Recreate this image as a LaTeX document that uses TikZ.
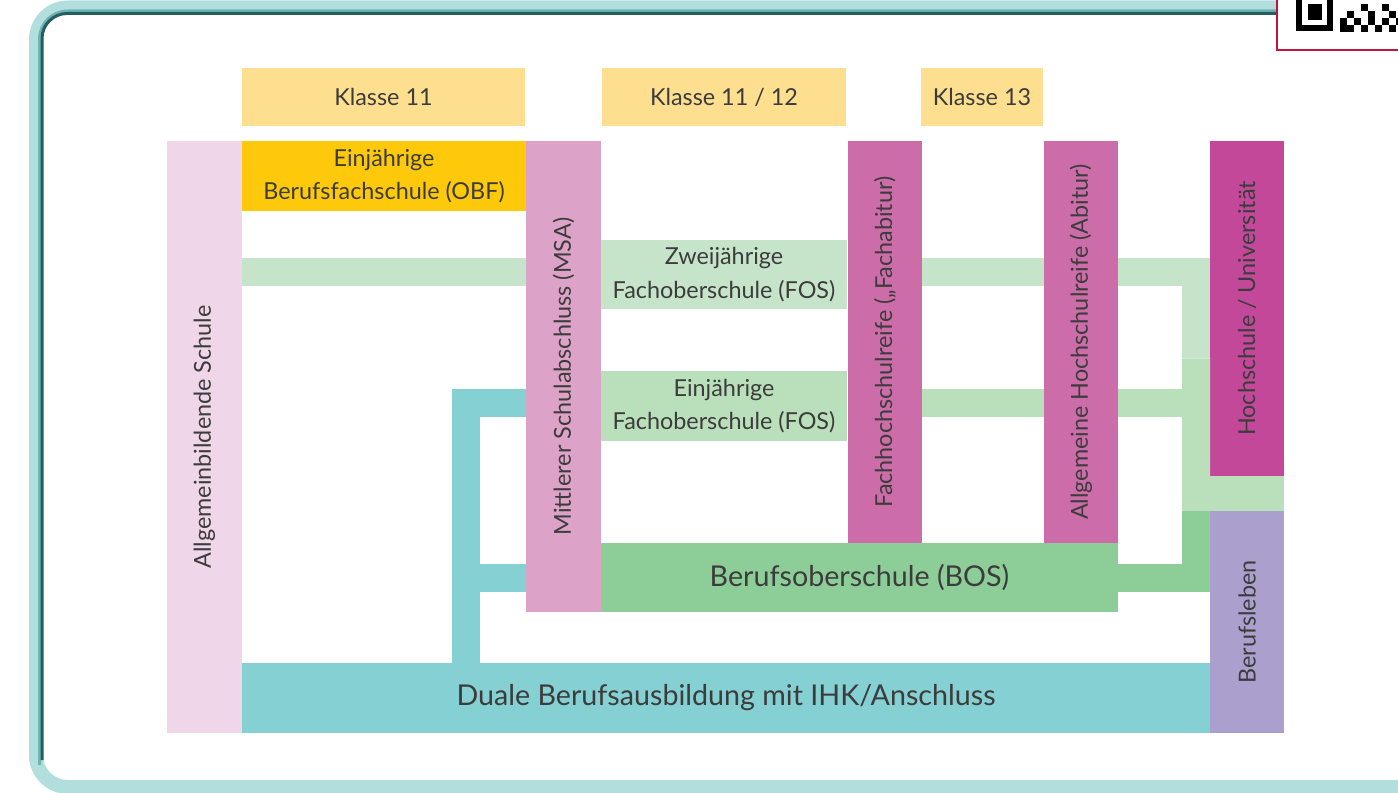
\documentclass[tikz,border=0pt]{standalone}
\usepackage{fontspec}
\setmainfont{Lato}
\usetikzlibrary{calc}

\definecolor{textcol}{HTML}{3C3C3C}
\definecolor{klassecol}{HTML}{FEDF8F}
\definecolor{obfcol}{HTML}{FFC90B}
\definecolor{allgcol}{HTML}{EFD6E9}
\definecolor{msacol}{HTML}{DDA2C7}
\definecolor{fos2col}{HTML}{C6E4C9}
\definecolor{fos1col}{HTML}{B9DFBB}
\definecolor{boscol}{HTML}{8DCD97}
\definecolor{reifecol}{HTML}{CC6DAA}
\definecolor{hscol}{HTML}{C4489A}
\definecolor{berufcol}{HTML}{ABA0CD}
\definecolor{dualcol}{HTML}{84D0D2}
\definecolor{framelight}{HTML}{B2DEDE}
\definecolor{framemid}{HTML}{6FB3B3}
\definecolor{framedark}{HTML}{245F5F}
\definecolor{qrred}{HTML}{C0143C}

\begin{document}
\begin{tikzpicture}[x=0.2mm,y=-0.2mm,
    box/.style={inner sep=0pt,align=center,text=textcol,font=\fontsize{13.3}{19}\selectfont},
    bigbox/.style={box,font=\fontsize{16.3}{20}\selectfont},
    band/.style={line width=5.6mm,line join=miter}]
    \useasboundingbox (0,0) rectangle (1398,792);

    % Rahmen
    \draw[framelight,line width=2.8mm,rounded corners=6.4mm] (1277,7.5) -- (36,7.5) -- (36,787) -- (1420,787);
    \draw[framemid,line width=0.6mm,rounded corners=5.6mm] (1277,11) -- (39.5,11) -- (39.5,765);
    \draw[framedark,line width=0.6mm,rounded corners=5mm] (1277,13.5) -- (42,13.5) -- (42,760);

    % QR-Code (angeschnitten)
    \draw[qrred,line width=0.5mm,fill=white] (1277,-10) rectangle (1420,50);
    \draw[black,line width=1.2mm] (1299,-10) -- (1299,28) -- (1330,28) -- (1330,-10);
    \fill[black] (1308,4) rectangle (1322,20);
    \foreach \qx/\qy in {1340/18,1340/25,1347/11,1347/25,1354/18,1361/4,1361/25,1368/11,1368/18,1375/25,1382/4,1382/18,1389/11,1389/25,1396/18}
        \fill[black] (\qx,\qy) rectangle +(7,7);

    % Klassenstufen
    \node[box,fill=klassecol,minimum width=56.6mm,minimum height=11.6mm] (k11) at (383.5,97) {Klasse 11};
    \node[box,fill=klassecol,minimum width=48.8mm,minimum height=11.6mm] (k1112) at (724,97) {Klasse 11 / 12};
    \node[box,fill=klassecol,minimum width=24.4mm,minimum height=11.6mm] (k13) at (982,97) {\raisebox{-0.6mm}{Klasse 13}};

    % Schulformen
    \node[box,fill=allgcol,minimum width=15mm,minimum height=118.4mm] (allg) at (204.5,437) {\rotatebox{90}{Allgemeinbildende Schule}};
    \node[box,fill=obfcol,minimum width=56.8mm,minimum height=14mm] (obf) at (384,176) {\raisebox{-0.6mm}{\shortstack{Einjährige\\[1.2mm]Berufsfachschule (OBF)}}};
    \node[box,fill=msacol,minimum width=15mm,minimum height=94.2mm] (msa) at (563.5,376.5) {\rotatebox{90}{Mittlerer Schulabschluss (MSA)}};
    \node[box,fill=fos2col,minimum width=49.2mm,minimum height=13.8mm] (zfos) at (724,274.5) {Zweijährige\\Fachoberschule (FOS)};
    \node[box,fill=fos1col,minimum width=49.2mm,minimum height=14mm] (efos) at (724,406) {Einjährige\\Fachoberschule (FOS)};
    \node[box,fill=reifecol,minimum width=14.8mm,minimum height=80.4mm] (fhr) at (885,342) {\rotatebox{90}{Fachhochschulreife („Fachabitur)}};
    \node[box,fill=reifecol,minimum width=14.8mm,minimum height=80.4mm] (ahr) at (1081,342) {\rotatebox{90}{Allgemeine Hochschulreife (Abitur)}};
    \node[box,fill=hscol,minimum width=14.8mm,minimum height=67mm] (hs) at (1247,308.5) {\rotatebox{90}{Hochschule / Universität}};
    \node[box,fill=berufcol,minimum width=14.8mm,minimum height=44.4mm] (bl) at (1247,622) {\rotatebox{90}{Berufsleben}};
    \node[bigbox,fill=boscol,minimum width=103.4mm,minimum height=13.8mm] (bos) at (859.5,577.5) {Berufsoberschule (BOS)};
    \node[bigbox,fill=dualcol,minimum width=193.6mm,minimum height=14mm] (duale) at (726,698) {Duale Berufsausbildung mit IHK/Anschluss};

    % Hilfspunkte
    \coordinate (lvl1) at ([yshift=0.5mm]zfos.center);
    \coordinate (lvl2) at ([yshift=0.6mm]efos.center);
    \coordinate (riser) at ([xshift=-2.7mm]hs.west);
    \coordinate (tealx) at ([xshift=-12mm]msa.west);
    \coordinate (split) at ($(riser |- lvl1)!0.66!(riser |- lvl2)$);

    % Verbindungen
    \draw[band,fos2col] (allg.east |- lvl1) -- (msa.west |- lvl1);
    \draw[band,fos2col] (fhr.east |- lvl1) -- (ahr.west |- lvl1);
    \draw[band,fos2col] (ahr.east |- lvl1) -| (split);
    \draw[band,fos1col] (fhr.east |- lvl2) -- (ahr.west |- lvl2);
    \draw[band,fos1col] (ahr.east |- lvl2) -- (riser |- lvl2);
    \draw[band,fos1col] (split) -- (riser |- bl.north);
    \fill[fos1col] ([xshift=-5.4mm]hs.south west) rectangle (bl.north east);
    \draw[band,boscol] (bos.east) -| (riser |- bl.north);
    \draw[band,dualcol] (msa.west |- lvl2) -| (tealx |- duale.north);
    \draw[band,dualcol] (msa.west |- bos) -- (tealx |- bos);
\end{tikzpicture}
\end{document}
